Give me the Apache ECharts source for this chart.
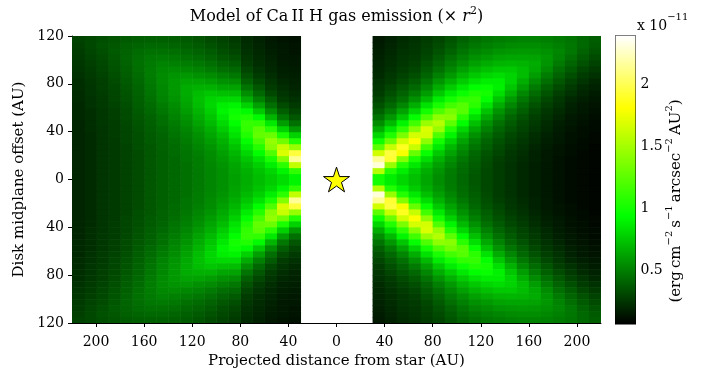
<!DOCTYPE html>
<html>
<head>
<meta charset="utf-8">
<title>Model of Ca II H gas emission</title>
<script src="https://cdn.jsdelivr.net/npm/echarts@6/dist/echarts.min.js"></script>
<style>
  html, body { margin: 0; padding: 0; background: #ffffff; }
  #chart { width: 706px; height: 374px; }
</style>
</head>
<body>
<div id="chart"></div>
<script>
// Model grid: cell centres in AU. Each column lists the emission (x 1e-11)
// from the midplane upward; the disk is mirror-symmetric about y = 0.
const rowY = [2.5, 7.5, 12.5, 17.5, 22.5, 27.5, 32.5, 37.5, 42.5, 47.5, 52.5, 57.5,
              62.5, 67.5, 72.5, 77.5, 82.5, 87.5, 92.5, 97.5, 102.5, 107.5, 112.5, 117.5];
const eastX = [35, 45, 55, 65, 75, 85, 95, 105, 115, 125, 135, 145, 155, 165, 175, 185, 195, 205, 215];
const westX = [-35, -45, -55, -65, -75, -85, -95, -105, -115, -125, -135, -145, -155, -165, -175, -185, -195, -205, -215];

const eastColumns = [
  [1.00,1.55,2.30,2.15,1.65,1.25,0.98,0.80,0.66,0.55,0.46,0.39,0.34,0.30,0.27,0.25,0.23,0.21,0.20,0.19,0.18,0.17,0.16,0.15],
  [0.88,1.05,1.45,1.92,1.95,1.62,1.30,1.04,0.85,0.70,0.58,0.49,0.42,0.37,0.33,0.30,0.27,0.25,0.23,0.22,0.21,0.20,0.19,0.18],
  [0.80,0.88,1.05,1.38,1.78,1.88,1.65,1.35,1.10,0.90,0.74,0.62,0.52,0.45,0.40,0.36,0.32,0.29,0.27,0.25,0.24,0.23,0.22,0.21],
  [0.72,0.76,0.86,1.02,1.28,1.62,1.80,1.66,1.40,1.15,0.95,0.79,0.66,0.56,0.48,0.42,0.37,0.33,0.30,0.28,0.26,0.25,0.24,0.23],
  [0.63,0.66,0.72,0.82,0.96,1.16,1.42,1.66,1.68,1.46,1.20,1.00,0.84,0.70,0.60,0.52,0.46,0.41,0.37,0.34,0.31,0.29,0.28,0.27],
  [0.55,0.57,0.61,0.67,0.75,0.86,1.00,1.20,1.45,1.55,1.42,1.20,1.02,0.87,0.75,0.65,0.57,0.50,0.45,0.41,0.37,0.34,0.32,0.30],
  [0.48,0.49,0.52,0.56,0.62,0.69,0.78,0.90,1.05,1.25,1.40,1.33,1.16,1.00,0.87,0.76,0.67,0.59,0.53,0.48,0.44,0.40,0.37,0.35],
  [0.42,0.43,0.44,0.47,0.51,0.56,0.62,0.70,0.80,0.93,1.08,1.23,1.22,1.10,0.97,0.86,0.76,0.68,0.61,0.55,0.50,0.46,0.43,0.40],
  [0.36,0.37,0.38,0.40,0.42,0.46,0.50,0.56,0.63,0.72,0.83,0.96,1.08,1.11,1.04,0.94,0.84,0.75,0.68,0.61,0.56,0.51,0.47,0.44],
  [0.31,0.31,0.32,0.33,0.35,0.38,0.41,0.45,0.50,0.56,0.64,0.73,0.84,0.95,1.00,0.96,0.88,0.80,0.72,0.65,0.59,0.54,0.50,0.47],
  [0.27,0.27,0.27,0.28,0.30,0.32,0.34,0.37,0.41,0.45,0.51,0.57,0.65,0.74,0.83,0.89,0.88,0.82,0.75,0.68,0.62,0.57,0.52,0.49],
  [0.23,0.23,0.23,0.24,0.25,0.27,0.29,0.31,0.34,0.37,0.41,0.46,0.52,0.59,0.67,0.74,0.79,0.79,0.75,0.69,0.63,0.58,0.54,0.50],
  [0.20,0.20,0.20,0.21,0.22,0.23,0.25,0.27,0.29,0.31,0.34,0.38,0.42,0.47,0.53,0.60,0.66,0.71,0.71,0.68,0.63,0.59,0.55,0.51],
  [0.17,0.17,0.17,0.18,0.18,0.19,0.21,0.22,0.24,0.26,0.28,0.31,0.34,0.38,0.43,0.48,0.54,0.60,0.64,0.65,0.62,0.58,0.55,0.51],
  [0.14,0.14,0.14,0.15,0.15,0.16,0.17,0.18,0.20,0.21,0.23,0.25,0.28,0.31,0.35,0.39,0.44,0.49,0.54,0.57,0.58,0.56,0.53,0.50],
  [0.12,0.12,0.12,0.12,0.13,0.13,0.14,0.15,0.16,0.17,0.19,0.21,0.23,0.25,0.28,0.32,0.36,0.40,0.44,0.48,0.51,0.52,0.50,0.48],
  [0.10,0.10,0.10,0.10,0.11,0.11,0.12,0.12,0.13,0.14,0.15,0.17,0.18,0.20,0.23,0.26,0.29,0.33,0.37,0.41,0.44,0.47,0.47,0.46],
  [0.09,0.09,0.09,0.09,0.09,0.10,0.10,0.11,0.11,0.12,0.13,0.14,0.15,0.17,0.19,0.21,0.24,0.27,0.30,0.34,0.37,0.40,0.42,0.42],
  [0.08,0.08,0.08,0.08,0.08,0.08,0.09,0.09,0.10,0.10,0.11,0.12,0.13,0.14,0.16,0.18,0.20,0.23,0.26,0.29,0.32,0.35,0.37,0.38]
];

const westColumns = [
  [0.90,1.10,1.60,2.15,1.95,1.45,1.05,0.78,0.58,0.45,0.36,0.30,0.26,0.23,0.21,0.19,0.18,0.17,0.16,0.15,0.14,0.13,0.13,0.12],
  [0.82,0.90,1.08,1.38,1.68,1.62,1.32,1.02,0.78,0.60,0.47,0.38,0.32,0.27,0.24,0.22,0.20,0.18,0.17,0.16,0.15,0.15,0.14,0.13],
  [0.76,0.80,0.88,1.02,1.20,1.40,1.44,1.30,1.08,0.86,0.68,0.54,0.44,0.37,0.31,0.27,0.24,0.22,0.20,0.19,0.18,0.17,0.16,0.15],
  [0.71,0.73,0.77,0.84,0.94,1.06,1.18,1.27,1.24,1.10,0.92,0.75,0.61,0.50,0.42,0.36,0.31,0.27,0.24,0.22,0.21,0.20,0.19,0.18],
  [0.66,0.67,0.70,0.74,0.80,0.87,0.95,1.04,1.10,1.11,1.04,0.92,0.78,0.65,0.55,0.46,0.39,0.34,0.30,0.27,0.25,0.23,0.22,0.21],
  [0.61,0.62,0.63,0.66,0.69,0.73,0.78,0.84,0.88,0.94,1.00,0.97,0.90,0.81,0.71,0.62,0.54,0.47,0.42,0.37,0.33,0.30,0.28,0.26],
  [0.56,0.56,0.57,0.59,0.61,0.64,0.67,0.71,0.76,0.81,0.86,0.90,0.88,0.81,0.72,0.63,0.56,0.50,0.44,0.40,0.36,0.33,0.31,0.29],
  [0.52,0.52,0.53,0.54,0.55,0.57,0.60,0.63,0.66,0.70,0.74,0.77,0.80,0.79,0.74,0.67,0.60,0.54,0.48,0.44,0.40,0.37,0.34,0.32],
  [0.48,0.48,0.49,0.49,0.50,0.52,0.54,0.56,0.59,0.62,0.65,0.68,0.71,0.72,0.71,0.67,0.62,0.56,0.51,0.47,0.43,0.40,0.37,0.35],
  [0.45,0.45,0.45,0.46,0.46,0.47,0.49,0.50,0.52,0.55,0.57,0.60,0.62,0.64,0.65,0.65,0.62,0.58,0.53,0.49,0.45,0.42,0.39,0.37],
  [0.42,0.42,0.42,0.42,0.43,0.43,0.44,0.46,0.47,0.49,0.51,0.53,0.55,0.57,0.58,0.59,0.59,0.57,0.54,0.50,0.47,0.44,0.41,0.38],
  [0.39,0.39,0.39,0.39,0.39,0.40,0.40,0.41,0.42,0.44,0.45,0.47,0.49,0.51,0.52,0.53,0.54,0.54,0.53,0.51,0.48,0.45,0.42,0.39],
  [0.36,0.36,0.36,0.36,0.36,0.36,0.37,0.37,0.38,0.39,0.40,0.42,0.43,0.45,0.46,0.47,0.48,0.49,0.49,0.48,0.47,0.45,0.42,0.39],
  [0.32,0.32,0.32,0.32,0.32,0.33,0.33,0.33,0.34,0.35,0.36,0.37,0.38,0.39,0.40,0.41,0.42,0.43,0.44,0.45,0.44,0.43,0.41,0.38],
  [0.29,0.29,0.29,0.29,0.29,0.29,0.30,0.30,0.30,0.31,0.32,0.32,0.33,0.34,0.35,0.36,0.37,0.38,0.39,0.40,0.41,0.40,0.39,0.37],
  [0.26,0.26,0.26,0.26,0.26,0.26,0.26,0.27,0.27,0.27,0.28,0.28,0.29,0.30,0.30,0.31,0.32,0.33,0.34,0.35,0.36,0.37,0.36,0.35],
  [0.24,0.24,0.24,0.24,0.24,0.24,0.24,0.24,0.24,0.25,0.25,0.25,0.26,0.26,0.27,0.28,0.28,0.29,0.30,0.31,0.32,0.33,0.34,0.33],
  [0.21,0.21,0.21,0.21,0.21,0.21,0.21,0.21,0.22,0.22,0.22,0.22,0.23,0.23,0.24,0.24,0.25,0.26,0.27,0.28,0.29,0.30,0.31,0.31],
  [0.19,0.19,0.19,0.19,0.19,0.19,0.19,0.19,0.19,0.19,0.20,0.20,0.20,0.21,0.21,0.22,0.22,0.23,0.24,0.25,0.26,0.27,0.28,0.29]
];

const xTicks = [-200, -160, -120, -80, -40, 0, 40, 80, 120, 160, 200];
const colorbarTicks = [0.5, 1, 1.5, 2];
const colorRange = [0.063, 2.39];
const starPosition = [[0, 0]];

// Green "hot" colour map: black -> green -> yellow -> white
const mapColors = ['#000000', '#005500', '#00aa00', '#00ff00',
                   '#55ff00', '#aaff00', '#ffff00', '#ffff80', '#ffffff'];

const CELL_W = 10;   // AU
const CELL_H = 5;    // AU
const SERIF = 'DejaVu Serif';

const cells = [];
function addSide(xs, columns) {
  xs.forEach(function (x, i) {
    columns[i].forEach(function (v, j) {
      cells.push([x, rowY[j], v]);
      cells.push([x, -rowY[j], v]);
    });
  });
}
addSide(eastX, eastColumns);
addSide(westX, westColumns);

function renderCell(params, api) {
  const x = api.value(0), y = api.value(1);
  const a = api.coord([x - CELL_W / 2, y + CELL_H / 2]);
  const b = api.coord([x + CELL_W / 2, y - CELL_H / 2]);
  return {
    type: 'rect',
    shape: { x: a[0], y: a[1], width: b[0] - a[0] + 0.6, height: b[1] - a[1] + 0.6 },
    style: { fill: api.visual('color') }
  };
}

function renderColorbar(params, api) {
  const a = api.coord([0, api.value(1)]);
  const b = api.coord([1, api.value(0)]);
  return {
    type: 'rect',
    shape: { x: a[0], y: a[1], width: b[0] - a[0], height: b[1] - a[1] },
    style: {
      fill: {
        type: 'linear', x: 0, y: 1, x2: 0, y2: 0,
        colorStops: mapColors.map(function (c, i) { return { offset: i / (mapColors.length - 1), color: c }; })
      }
    }
  };
}

const labelStyle = { fontFamily: SERIF, fontSize: 14, color: '#000000' };
const nameStyle = { fontFamily: SERIF, fontSize: 15, color: '#000000' };
const blackLine = { lineStyle: { color: '#000000', width: 1 } };

const chart = echarts.init(document.getElementById('chart'));
chart.setOption({
  animation: false,
  backgroundColor: '#ffffff',
  grid: [
    { left: 72, top: 36, width: 529, height: 288, containLabel: false, show: false },
    { left: 615.5, top: 36, width: 20, height: 288, containLabel: false,
      show: true, borderColor: '#000000', borderWidth: 1, backgroundColor: 'transparent' }
  ],
  xAxis: [
    {
      type: 'value', gridIndex: 0, min: -220, max: 220,
      axisLine: { show: true, onZero: false, lineStyle: { color: '#000000', width: 1 } },
      axisTick: { show: true, inside: false, length: 4, customValues: xTicks, lineStyle: { color: '#000000' } },
      axisLabel: Object.assign({ customValues: xTicks, margin: 12,
        formatter: function (v) { return String(Math.abs(v)); } }, labelStyle),
      splitLine: { show: false },
      name: 'Projected distance from star (AU)', nameLocation: 'middle', nameGap: 31,
      nameTextStyle: nameStyle
    },
    { type: 'value', gridIndex: 1, min: 0, max: 1, show: false }
  ],
  yAxis: [
    {
      type: 'value', gridIndex: 0, min: -120, max: 120, interval: 40,
      axisLine: { show: true, onZero: false, lineStyle: { color: '#000000', width: 1 } },
      axisTick: { show: true, inside: false, length: 4, lineStyle: { color: '#000000' } },
      axisLabel: Object.assign({ margin: 8,
        formatter: function (v) { return String(Math.abs(v)); } }, labelStyle),
      splitLine: { show: false },
      name: 'Disk midplane offset (AU)', nameLocation: 'middle', nameGap: 36, nameRotate: 90,
      nameTextStyle: nameStyle
    },
    {
      type: 'value', gridIndex: 1, position: 'left', min: colorRange[0], max: colorRange[1],
      axisLine: Object.assign({ show: true, onZero: false }, blackLine),
      axisTick: { show: true, inside: true, length: 4, customValues: colorbarTicks, lineStyle: { color: '#000000' } },
      axisLabel: { show: false, customValues: colorbarTicks },
      splitLine: { show: false }
    },
    {
      type: 'value', gridIndex: 1, position: 'right', min: colorRange[0], max: colorRange[1],
      axisLine: Object.assign({ show: true, onZero: false }, blackLine),
      axisTick: { show: true, inside: true, length: 4, customValues: colorbarTicks, lineStyle: { color: '#000000' } },
      axisLabel: Object.assign({ customValues: colorbarTicks, margin: 5,
        formatter: function (v) { return String(v); } }, labelStyle),
      splitLine: { show: false }
    }
  ],
  visualMap: {
    type: 'continuous', show: false, seriesIndex: 0, dimension: 2,
    min: colorRange[0], max: colorRange[1],
    inRange: { color: mapColors }
  },
  series: [
    {
      type: 'custom', name: 'Ca II H emission', xAxisIndex: 0, yAxisIndex: 0,
      renderItem: renderCell, data: cells, encode: { x: 0, y: 1 }, clip: true, silent: true
    },
    {
      type: 'scatter', name: 'Star', xAxisIndex: 0, yAxisIndex: 0, data: starPosition, z: 5,
      symbol: 'path://M50 0 L61.23 34.55 L97.55 34.55 L68.17 55.9 L79.39 90.45 L50 69.1 L20.61 90.45 L31.83 55.9 L2.45 34.55 L38.77 34.55 Z',
      symbolSize: 26, symbolKeepAspect: true,
      itemStyle: { color: '#ffff00', borderColor: '#000000', borderWidth: 1, opacity: 1 },
      silent: true
    },
    {
      type: 'custom', name: 'Colour scale', xAxisIndex: 1, yAxisIndex: 1,
      renderItem: renderColorbar, data: [colorRange], encode: { y: [0, 1] }, silent: true
    }
  ],
  graphic: [
    {
      type: 'text', x: 336.5, y: 16.5, silent: true,
      style: {
        text: 'Model of Ca\u2009II H gas emission (\u00d7 {it|r}{sup|2})',
        fontFamily: SERIF, fontSize: 16, lineHeight: 22, fill: '#000000',
        align: 'center', verticalAlign: 'middle',
        rich: {
          it: { fontFamily: SERIF, fontSize: 16, fontStyle: 'italic', lineHeight: 22 },
          sup: { fontFamily: SERIF, fontSize: 11, lineHeight: 13, verticalAlign: 'top' }
        }
      }
    },
    {
      type: 'text', x: 637, y: 26.4, silent: true,
      style: {
        text: 'x 10{sup|\u221211}',
        fontFamily: SERIF, fontSize: 14, lineHeight: 28, fill: '#000000',
        align: 'left', verticalAlign: 'middle',
        rich: { sup: { fontFamily: SERIF, fontSize: 10, lineHeight: 10, verticalAlign: 'top' } }
      }
    },
    {
      type: 'text', x: 676, y: 201, rotation: Math.PI / 2, silent: true,
      style: {
        text: '(erg\u2009cm{sup|\u22122}\u2009s{sup|\u22121}\u2009arcsec{sup|\u22122}\u2009AU{sup|2})',
        fontFamily: SERIF, fontSize: 15, lineHeight: 24, fill: '#000000',
        align: 'center', verticalAlign: 'middle',
        rich: { sup: { fontFamily: SERIF, fontSize: 10, lineHeight: 11, verticalAlign: 'top' } }
      }
    }
  ]
});
</script>
</body>
</html>
